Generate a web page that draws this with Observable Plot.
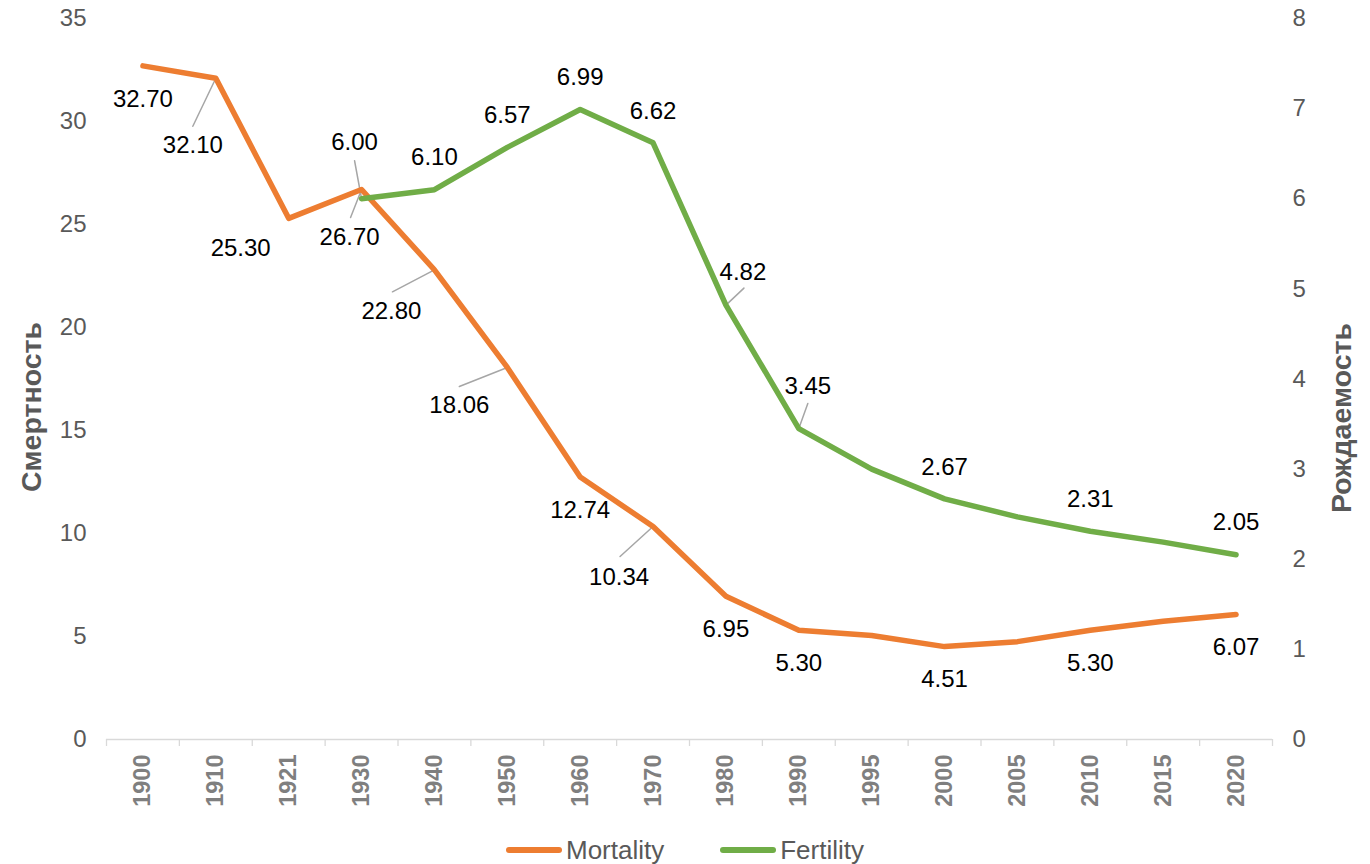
<!DOCTYPE html>
<html>
<head>
<meta charset="utf-8">
<script src="https://cdn.jsdelivr.net/npm/d3@7"></script>
<script src="https://cdn.jsdelivr.net/npm/@observablehq/plot@0.6"></script>
<style>
  html, body { margin: 0; padding: 0; background: #fff; }
  #wrap { position: relative; width: 1370px; height: 864px; font-family: "Liberation Sans", Arial, sans-serif; }
  #legend { position: absolute; left: 0; top: 830px; width: 1370px; height: 40px; display: flex; justify-content: center; align-items: center; gap: 56px; font-size: 26px; color: #595959; }
  .item { display: flex; align-items: center; gap: 4px; }
  .sw { width: 56px; height: 6px; border-radius: 3px; }
</style>
</head>
<body>
<div id="wrap"></div>
<script>
// ---- data ----
const years = ["1900","1910","1921","1930","1940","1950","1960","1970","1980","1990","1995","2000","2005","2010","2015","2020"];
const mortality = [32.70, 32.10, 25.30, 26.70, 22.80, 18.06, 12.74, 10.34, 6.95, 5.30, 5.05, 4.51, 4.75, 5.30, 5.74, 6.07];
const fertility = [null, null, null, 6.00, 6.10, 6.57, 6.99, 6.62, 4.82, 3.45, 3.00, 2.67, 2.47, 2.31, 2.19, 2.05];
const mortalityLabeled = ["1900","1910","1921","1930","1940","1950","1960","1970","1980","1990","2000","2010","2020"];
const fertilityLabeled = ["1930","1940","1950","1960","1970","1980","1990","2000","2010","2020"];
const leftTicks = [0, 5, 10, 15, 20, 25, 30, 35];
const rightTicks = [0, 1, 2, 3, 4, 5, 6, 7, 8];
const seriesNames = ["Mortality", "Fertility"];
const leftTitle = "Смертность";
const rightTitle = "Рождаемость";

// ---- layout / style ----
const colors = {Mortality: "#ED7D31", Fertility: "#70AD47"};
const leftMax = 35, rightMax = 8;
const ratio = leftMax / rightMax;
const mLabelOff = {"1910": [-23, 67], "1921": [-48, 30], "1930": [-12, 48], "1940": [-43, 41], "1950": [-48, 38], "1970": [-34, 51]};
const fLabelOff = {"1930": [-7, -56], "1980": [17, -33], "1990": [9, -42]};
const mLeader = {"1910": [-23, 48], "1930": [-11, 28], "1940": [-42, 22], "1950": [-48, 19], "1970": [-33, 30]};
const fLeader = {"1930": [-7, -38], "1980": [18, -17], "1990": [9, -25]};

const mData = years.map((year, i) => ({i, year, value: mortality[i], y: mortality[i]}));
const fData = years.map((year, i) => ({i, year, value: fertility[i], y: fertility[i] == null ? null : fertility[i] * ratio}))
  .filter(d => d.value != null);

const labels = [
  ...mData.filter(d => mortalityLabeled.includes(d.year)).map(d => ({...d, off: mLabelOff[d.year] || [0, 33]})),
  ...fData.filter(d => fertilityLabeled.includes(d.year)).map(d => ({...d, off: fLabelOff[d.year] || [0, -32]}))
];
const leaders = [
  ...mData.filter(d => mLeader[d.year]).map(d => ({...d, v: mLeader[d.year]})),
  ...fData.filter(d => fLeader[d.year]).map(d => ({...d, v: fLeader[d.year]}))
];

const lineShape = {draw(context, l) { context.moveTo(0, 0); context.lineTo(0, -l); }};

const marks = [
  Plot.ruleY([0], {stroke: "#d9d9d9", strokeWidth: 1.5}),
  Plot.axisX(d3.range(-0.5, years.length, 1), {tickFormat: () => "", tickSize: 7, stroke: "#d9d9d9", strokeWidth: 1.3, label: null}),
  Plot.axisX(d3.range(years.length), {tickFormat: i => years[i], tickRotate: -90, tickSize: 0, tickPadding: 15,
    fontSize: 23.5, fontWeight: "bold", color: "#7f7f7f", label: null}),
  Plot.axisY(leftTicks, {anchor: "left", tickSize: 0, tickPadding: 20, fontSize: 24, color: "#595959", label: null}),
  Plot.axisY(rightTicks.map(d => d * ratio), {anchor: "right", tickFormat: v => String(Math.round(v / ratio)), tickSize: 0, tickPadding: 20, fontSize: 24, color: "#595959", label: null}),
  Plot.text([leftTitle], {frameAnchor: "left", text: d => d, rotate: -90, textAnchor: "middle", dx: -75, dy: 28, fontSize: 28.5, fontWeight: "bold", fill: "#595959"}),
  Plot.text([rightTitle], {frameAnchor: "right", text: d => d, rotate: -90, textAnchor: "middle", dx: 69, dy: 39, fontSize: 28.5, fontWeight: "bold", fill: "#595959"}),
  Plot.vector(leaders, {x: "i", y: "y", length: d => Math.hypot(d.v[0], d.v[1]), rotate: d => Math.atan2(d.v[0], -d.v[1]) * 180 / Math.PI,
    anchor: "start", shape: lineShape, r: 0, stroke: "#a6a6a6", strokeWidth: 1.5}),
  Plot.line(mData, {x: "i", y: "y", stroke: colors.Mortality, strokeWidth: 5.5, strokeLinecap: "round", strokeLinejoin: "round"}),
  Plot.line(fData, {x: "i", y: "y", stroke: colors.Fertility, strokeWidth: 5.5, strokeLinecap: "round", strokeLinejoin: "round"}),
  ...labels.map(d => Plot.text([d], {x: "i", y: "y", text: d => d.value.toFixed(2), dx: d.off[0], dy: d.off[1], fontSize: 24, fill: "#000"}))
];

const chart = Plot.plot({
  width: 1370,
  height: 820,
  marginTop: 18,
  marginBottom: 81,
  marginLeft: 106,
  marginRight: 98,
  x: {type: "linear", domain: [-0.5, years.length - 0.5], axis: null, label: null},
  y: {domain: [0, leftMax], axis: null, label: null},
  length: {type: "identity"},
  style: {fontFamily: "'Liberation Sans', Arial, sans-serif", background: "#fff", overflow: "visible"},
  marks
});

const wrap = document.getElementById("wrap");
wrap.appendChild(chart);
const legend = document.createElement("div");
legend.id = "legend";
legend.innerHTML = seriesNames.map(n => `<span class="item"><span class="sw" style="background:${colors[n]}"></span>${n}</span>`).join("");
wrap.appendChild(legend);
</script>
</body>
</html>
